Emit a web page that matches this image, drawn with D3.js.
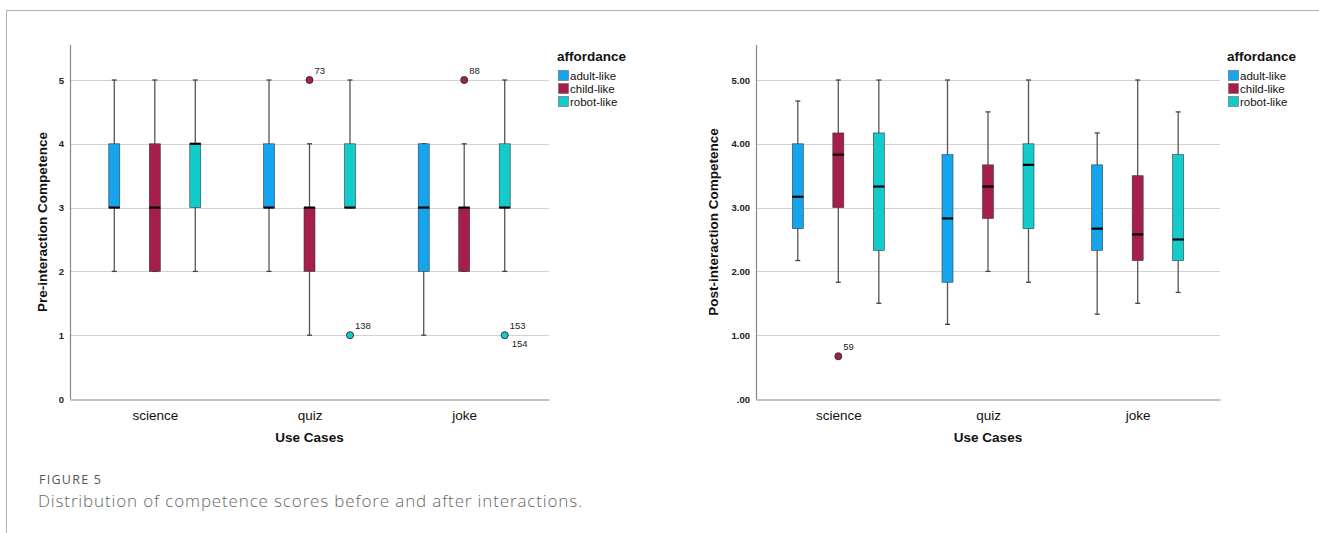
<!DOCTYPE html>
<html><head><meta charset="utf-8">
<script src="https://cdn.jsdelivr.net/npm/d3@7"></script>
<style>
body{margin:0;background:#fff;}
svg{display:block;}
text{font-family:"Liberation Sans",Arial,sans-serif;}
text.cap{font-family:"Open Sans",sans-serif;}
</style></head>
<body>
<svg id="c" width="1319" height="533"></svg>
<script>
const categories = ["science","quiz","joke"];
const groups = ["adult-like","child-like","robot-like"];
const colors = ["#14a5ee","#a61e4d","#12cccb"];
// [min whisker, q1, median, q3, max whisker] per category x group
const preStats = [
  [[2,3,3,4,5],[2,2,3,4,5],[2,3,4,4,5]],
  [[2,3,3,4,5],[1,2,3,3,4],[3,3,3,4,5]],
  [[1,2,3,4,4],[2,2,3,3,4],[2,3,3,4,5]]
];
const preOutliers = [ // [category index, group index, value, label]
  [1,1,5,"73"],[1,2,1,"138"],[2,1,5,"88"],[2,2,1,"153\n154"]
];
const postStats = [
  [[2.17,2.67,3.17,4.00,4.67],[1.83,3.00,3.83,4.17,5.00],[1.50,2.33,3.33,4.17,5.00]],
  [[1.17,1.83,2.83,3.83,5.00],[2.00,2.83,3.33,3.67,4.50],[1.83,2.67,3.67,4.00,5.00]],
  [[1.33,2.33,2.67,3.67,4.17],[1.50,2.17,2.58,3.50,5.00],[1.67,2.17,2.50,3.83,4.50]]
];
const postOutliers = [[0,1,0.67,"59"]];
const preTicks = [0,1,2,3,4,5];
const postTicks = [0,1,2,3,4,5];

const svg = d3.select("#c");
// frame
svg.append("line").attr("x1",6).attr("x2",1319).attr("y1",10.5).attr("y2",10.5).attr("stroke","#b0b0b0").attr("stroke-width",1);
svg.append("line").attr("x1",6.5).attr("x2",6.5).attr("y1",10).attr("y2",533).attr("stroke","#b0b0b0").attr("stroke-width",1);

function panel(opt){
  const g = svg.append("g");
  const y = d3.scaleLinear().domain([0,5]).range([399,80]);
  const x = d3.scalePoint().domain(categories).range([opt.x0,opt.x1]).padding(opt.pad);
  const off = 40.5, bw = 11;
  // gridlines
  g.selectAll(".grid").data(opt.ticks.filter(t=>t>0)).join("line")
    .attr("x1",opt.x0).attr("x2",opt.x1)
    .attr("y1",d=>Math.round(y(d))+0.5).attr("y2",d=>Math.round(y(d))+0.5)
    .attr("stroke","#d2d2d2").attr("stroke-width",1.2);
  // axes
  const ya = d3.axisLeft(y).tickValues(opt.ticks).tickSize(0).tickPadding(6).tickFormat(opt.fmt);
  const yg = g.append("g").attr("transform",`translate(${opt.x0},0)`).call(ya);
  yg.select(".domain").remove();
  yg.selectAll("text").attr("font-size",9.5).attr("fill","#222").attr("font-weight","bold");
  g.append("line").attr("x1",opt.x0+0.5).attr("x2",opt.x0+0.5).attr("y1",45).attr("y2",399.5).attr("stroke","#888").attr("stroke-width",1.2);
  const xa = d3.axisBottom(x).tickSize(0).tickPadding(8);
  const xg = g.append("g").attr("transform",`translate(0,399.5)`).call(xa);
  xg.select(".domain").attr("stroke","#888").attr("stroke-width",1.2);
  xg.selectAll("text").attr("font-size",13.5).attr("fill","#111").attr("dy","0.9em");
  // labels
  g.append("text").attr("x",x("quiz")).attr("y",442).attr("text-anchor","middle")
    .attr("font-size",13.5).attr("font-weight","bold").attr("fill","#111").text("Use Cases");
  g.append("text").attr("transform",`translate(${opt.ylx},222) rotate(-90)`).attr("text-anchor","middle")
    .attr("font-size",13.5).attr("font-weight","bold").attr("fill","#111").text(opt.ylabel);
  // boxes
  const boxes = [];
  opt.stats.forEach((row,ci)=>row.forEach((s,gi)=>boxes.push({ci,gi,s})));
  const bg = g.selectAll(".box").data(boxes).join("g")
    .attr("transform",d=>`translate(${x(categories[d.ci])+(d.gi-1)*off},0)`);
  bg.append("line").attr("x1",0).attr("x2",0).attr("y1",d=>y(d.s[0])).attr("y2",d=>y(d.s[4]))
    .attr("stroke","#555").attr("stroke-width",1.3);
  bg.append("line").attr("x1",-2.5).attr("x2",2.5).attr("y1",d=>y(d.s[0])).attr("y2",d=>y(d.s[0])).attr("stroke","#444").attr("stroke-width",1.3);
  bg.append("line").attr("x1",-2.5).attr("x2",2.5).attr("y1",d=>y(d.s[4])).attr("y2",d=>y(d.s[4])).attr("stroke","#444").attr("stroke-width",1.3);
  bg.append("rect").attr("x",-bw/2).attr("width",bw)
    .attr("y",d=>y(d.s[3])).attr("height",d=>Math.max(0.01,y(d.s[1])-y(d.s[3])))
    .attr("fill",d=>colors[d.gi]).attr("stroke","#3a3a3a").attr("stroke-width",0.6);
  bg.append("line").attr("x1",-bw/2).attr("x2",bw/2).attr("y1",d=>y(d.s[2])).attr("y2",d=>y(d.s[2]))
    .attr("stroke","#000").attr("stroke-width",2.2);
  // outliers
  const og = g.selectAll(".out").data(opt.outliers).join("g")
    .attr("transform",d=>`translate(${x(categories[d[0]])+(d[1]-1)*off},${y(d[2])})`);
  og.append("circle").attr("r",3.5).attr("fill",d=>colors[d[1]]).attr("stroke","#333").attr("stroke-width",1);
  og.each(function(d){
    const lines = d[3].split("\n");
    const s = d3.select(this);
    s.append("text").attr("x",5).attr("y",-6).attr("font-size",9.5).attr("fill","#222").text(lines[0]);
    if(lines[1]) s.append("text").attr("x",7).attr("y",12).attr("font-size",9.5).attr("fill","#222").text(lines[1]);
  });
  // legend
  const lg = g.append("g").attr("transform",`translate(${opt.lx},0)`);
  lg.append("text").attr("x",0).attr("y",61).attr("font-size",13.5).attr("font-weight","bold").attr("fill","#111").text("affordance");
  groups.forEach((name,i)=>{
    lg.append("rect").attr("x",1.5).attr("y",70.5+i*13).attr("width",10).attr("height",10)
      .attr("fill",colors[i]).attr("stroke","#666").attr("stroke-width",0.6);
    lg.append("text").attr("x",13).attr("y",79.5+i*13).attr("font-size",11.5).attr("fill","#111").text(name);
  });
}

panel({x0:70,x1:549,pad:0.548,stats:preStats,outliers:preOutliers,ticks:preTicks,
  fmt:d3.format("d"),ylabel:"Pre-interaction Competence",lx:557,ylx:47});
panel({x0:756,x1:1220,pad:0.55,stats:postStats,outliers:postOutliers,ticks:postTicks,
  fmt:d=>d===0?".00":d3.format(".2f")(d),ylabel:"Post-interaction Competence",lx:1227,ylx:718});

// caption
svg.append("text").attr("class","cap").attr("x",39).attr("y",484)
  .attr("font-size",12.5).attr("fill","#555")
  .attr("textLength",62).attr("lengthAdjust","spacing").text("FIGURE 5");
svg.append("text").attr("class","cap").attr("x",38).attr("y",506.5)
  .attr("font-size",17).attr("font-weight",300).attr("fill","#666")
  .attr("textLength",544).attr("lengthAdjust","spacing")
  .text("Distribution of competence scores before and after interactions.");
</script>
</body></html>
